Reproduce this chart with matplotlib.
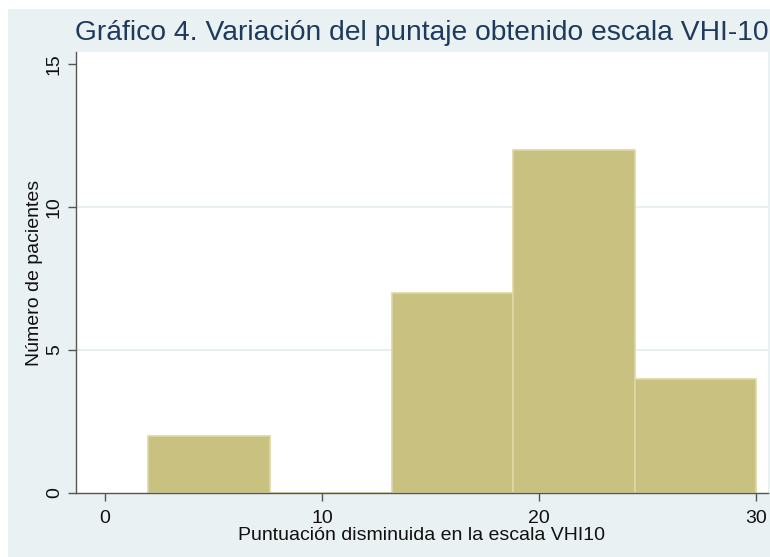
import matplotlib

matplotlib.use("Agg")
import matplotlib.pyplot as plt
from matplotlib.patches import Rectangle

# histogram: 5 bins between min 2 and max 30
bin_edges = [2.0, 7.6, 13.2, 18.8, 24.4, 30.0]
counts = [2, 0, 7, 12, 4]
x_ticks = [0, 10, 20, 30]
y_ticks = [0, 5, 10, 15]
grid_at = [5, 10]

title = "Gráfico 4. Variación del puntaje obtenido escala VHI-10"
xlabel = "Puntuación disminuida en la escala VHI10"
ylabel = "Número de pacientes"

BG = "#EAF1F3"
BAR = "#C9C17F"
BAR_EDGE = "#DDD7A6"
AXC = "#555555"

plt.rcParams["font.family"] = ["Liberation Sans", "DejaVu Sans"]

fig = plt.figure(figsize=(7.7, 5.57), dpi=100, facecolor="white")
fig.patches.append(
    Rectangle((8 / 770, 0), 1, 1 - 9 / 557, transform=fig.transFigure,
              facecolor=BG, edgecolor="none", zorder=-10)
)
ax = fig.add_axes([76 / 770, 1 - 493 / 557, (768 - 76) / 770, (493 - 52) / 557])
ax.set_facecolor("white")

widths = [b - a for a, b in zip(bin_edges[:-1], bin_edges[1:])]
ax.bar(bin_edges[:-1], counts, width=widths, align="edge",
       color=BAR, edgecolor=BAR_EDGE, linewidth=1.2, zorder=2)

for g in grid_at:
    ax.axhline(g, color="#E3ECEF", lw=1.2, zorder=1)

ax.set_xlim(-1.34, 30.55)
ax.set_ylim(0, 15.42)
ax.set_xticks(x_ticks)
ax.set_yticks(y_ticks)
ax.set_yticklabels([str(v) for v in y_ticks], rotation=90, va="center")

for s in ["top", "right"]:
    ax.spines[s].set_visible(False)
for s in ["left", "bottom"]:
    ax.spines[s].set_color(AXC)
    ax.spines[s].set_linewidth(1.0)
ax.tick_params(axis="both", direction="out", length=5.5, width=1, color=AXC,
               labelsize=14, labelcolor="#111111")
ax.tick_params(axis="x", pad=7)
ax.tick_params(axis="y", pad=4)

ax.set_xlabel(xlabel, fontsize=14, color="#111111", labelpad=0)
ax.set_ylabel(ylabel, fontsize=14, color="#111111", labelpad=2)

fig.text(422 / 770, 1 - 33 / 557, title, ha="center", va="center",
         fontsize=20.3, color="#1E3A5C")

fig.savefig("out.png", dpi=100, facecolor="white")
